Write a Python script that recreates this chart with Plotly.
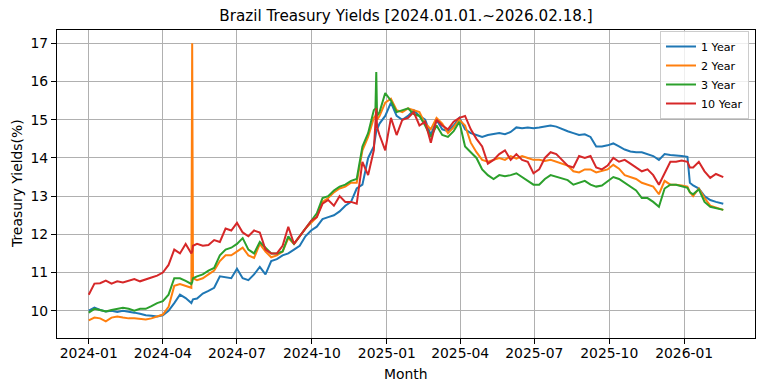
import pandas as pd
import plotly.graph_objects as go

# ---------------- data ----------------
dates = [
    "2024-01-01", "2024-01-08", "2024-01-15", "2024-01-22", "2024-01-29",
    "2024-02-05", "2024-02-12", "2024-02-19", "2024-02-26",
    "2024-03-04", "2024-03-11", "2024-03-18", "2024-03-25",
    "2024-04-01", "2024-04-08", "2024-04-15", "2024-04-22", "2024-04-29",
    "2024-05-06", "2024-05-07", "2024-05-08", "2024-05-13", "2024-05-20", "2024-05-27",
    "2024-06-03", "2024-06-10", "2024-06-17", "2024-06-24",
    "2024-07-01", "2024-07-08", "2024-07-15", "2024-07-22", "2024-07-29",
    "2024-08-05", "2024-08-12", "2024-08-19", "2024-08-26",
    "2024-09-02", "2024-09-09", "2024-09-16", "2024-09-23", "2024-09-30",
    "2024-10-07", "2024-10-14", "2024-10-21", "2024-10-28",
    "2024-11-04", "2024-11-11", "2024-11-18", "2024-11-25",
    "2024-12-02", "2024-12-09", "2024-12-16", "2024-12-18", "2024-12-19", "2024-12-20", "2024-12-23", "2024-12-30",
    "2025-01-06", "2025-01-13", "2025-01-20", "2025-01-27",
    "2025-02-03", "2025-02-10", "2025-02-17", "2025-02-24",
    "2025-03-03", "2025-03-10", "2025-03-17", "2025-03-24", "2025-03-31",
    "2025-04-07", "2025-04-14", "2025-04-21", "2025-04-28",
    "2025-05-05", "2025-05-12", "2025-05-19", "2025-05-26",
    "2025-06-02", "2025-06-09", "2025-06-16", "2025-06-23", "2025-06-30",
    "2025-07-07", "2025-07-14", "2025-07-21", "2025-07-28",
    "2025-08-04", "2025-08-11", "2025-08-18", "2025-08-25",
    "2025-09-01", "2025-09-08", "2025-09-15", "2025-09-22", "2025-09-29",
    "2025-10-06", "2025-10-13", "2025-10-20", "2025-10-27",
    "2025-11-03", "2025-11-10", "2025-11-17", "2025-11-24",
    "2025-12-01", "2025-12-08", "2025-12-15", "2025-12-22", "2025-12-29",
    "2026-01-05", "2026-01-08", "2026-01-12", "2026-01-19", "2026-01-26",
    "2026-02-02", "2026-02-09", "2026-02-16", "2026-02-18",
]

yield_1y = [
    10.0, 10.08, 10.02, 9.98, 10.0,
    9.97, 10.0, 9.98, 9.95,
    9.92, 9.88, 9.87, 9.85,
    9.88, 10.0, 10.2, 10.42, 10.33,
    10.2, 10.25, 10.3, 10.32, 10.45, 10.52,
    10.6, 10.9, 10.88, 10.85,
    11.1, 10.85, 10.8, 10.95, 11.15,
    10.95, 11.3, 11.35, 11.45,
    11.5, 11.6, 11.7, 11.95, 12.1,
    12.2, 12.4, 12.45, 12.5,
    12.6, 12.75, 12.85, 13.2,
    13.3, 14.0, 14.3, 14.6, 14.7, 14.75, 14.9, 15.1,
    15.45, 15.1, 15.0, 15.1,
    15.25, 15.1, 15.0, 14.6,
    15.0, 14.75, 14.7, 14.85, 15.05,
    14.75, 14.65, 14.6, 14.55,
    14.6, 14.62, 14.65, 14.62,
    14.68, 14.8, 14.78, 14.8, 14.78,
    14.8, 14.82, 14.85, 14.82,
    14.75, 14.7, 14.65, 14.6,
    14.62, 14.55, 14.3, 14.3, 14.33,
    14.38, 14.3, 14.22, 14.17,
    14.15, 14.15, 14.1, 14.05,
    13.95, 14.1, 14.08, 14.07, 14.05,
    14.03, 13.35, 13.28, 13.2, 13.0,
    12.9, 12.85, 12.82, 12.8,
]

yield_2y = [
    9.75, 9.82, 9.8, 9.72, 9.82,
    9.85, 9.82, 9.8, 9.8,
    9.78, 9.77, 9.8, 9.85,
    9.9, 10.1, 10.65, 10.7, 10.65,
    10.6, 17.0, 10.85, 10.8, 10.85, 10.95,
    11.05, 11.3, 11.45, 11.45,
    11.55, 11.65, 11.45, 11.38, 11.75,
    11.55, 11.4, 11.45, 11.55,
    11.9, 11.75, 11.95, 12.15, 12.3,
    12.45, 12.85, 12.95, 13.1,
    13.2, 13.25, 13.35, 13.35,
    14.2, 14.55, 15.05, 15.1, 15.2, 15.0, 15.1, 15.45,
    15.55, 15.25, 15.2, 15.3,
    15.25, 15.2, 14.9, 14.75,
    15.05, 14.9, 14.65, 14.8, 15.0,
    14.85, 14.4, 14.15, 13.95,
    13.9, 13.95, 14.0, 13.95,
    14.05, 13.98, 14.05, 14.0, 13.95,
    13.95, 13.92, 13.95, 13.9,
    13.85, 13.8, 13.65, 13.62,
    13.7, 13.7, 13.62, 13.65, 13.7,
    13.82, 13.72, 13.55, 13.5,
    13.45, 13.35, 13.3, 13.25,
    13.05, 13.4, 13.3, 13.3, 13.28,
    13.25, 13.1, 13.0, 13.2, 12.95,
    12.75, 12.7, 12.65, 12.64,
]

yield_3y = [
    9.95, 10.05, 10.02, 9.98, 10.02,
    10.05, 10.08, 10.05, 10.0,
    10.05, 10.05, 10.12, 10.2,
    10.25, 10.42, 10.85, 10.85, 10.78,
    10.7, 10.75, 10.85, 10.9, 10.95, 11.05,
    11.12, 11.45, 11.6, 11.65,
    11.75, 11.9, 11.6, 11.5, 11.8,
    11.65, 11.5, 11.5, 11.55,
    11.95, 11.75, 11.95, 12.15, 12.35,
    12.55, 12.95, 13.0, 13.15,
    13.25, 13.3, 13.4, 13.45,
    14.3, 14.65, 15.25, 15.3, 16.25, 15.1, 15.2, 15.7,
    15.5, 15.2, 15.25, 15.3,
    15.15, 15.1, 14.85, 14.55,
    14.85, 14.6, 14.55, 14.7, 14.95,
    14.3, 14.15, 14.0, 13.7,
    13.55, 13.45, 13.55, 13.52,
    13.55, 13.6, 13.5, 13.4, 13.3,
    13.3, 13.45, 13.55, 13.5,
    13.45, 13.42, 13.3, 13.35,
    13.4, 13.3, 13.25, 13.28, 13.4,
    13.5, 13.45, 13.35, 13.25,
    13.15, 12.95, 12.95, 12.85,
    12.72, 13.2, 13.3, 13.3, 13.25,
    13.22, 13.1, 13.05, 13.18, 12.85,
    12.72, 12.68, 12.65, 12.64,
]

yield_10y = [
    10.42, 10.71, 10.72, 10.79, 10.71,
    10.77, 10.74, 10.78, 10.83,
    10.77, 10.81, 10.87, 10.92,
    11.0, 11.2, 11.6, 11.5, 11.75,
    11.5, 11.55, 11.7, 11.75, 11.7, 11.72,
    11.85, 11.8, 12.15, 12.1,
    12.3, 12.05, 11.95, 12.1, 12.05,
    11.6, 11.5, 11.5, 11.7,
    12.2, 11.75, 11.95, 12.15, 12.35,
    12.45, 12.8, 12.9, 12.75,
    13.0, 12.85, 12.85, 12.8,
    13.9, 13.55, 14.2, 14.9, 15.3, 14.8, 14.6, 14.2,
    15.05, 14.6, 15.0, 15.05,
    15.2, 14.85, 14.95, 14.4,
    15.0, 14.85, 14.75, 14.95, 15.05,
    15.1, 14.75, 14.5, 14.3,
    13.85, 13.95, 14.1, 14.2,
    13.95, 14.1, 13.95, 13.9, 13.6,
    13.7, 14.0, 14.15, 14.1,
    13.95, 13.8, 13.75, 14.05,
    14.0, 14.05, 13.75, 13.7, 13.8,
    14.0, 13.9, 13.95, 13.85,
    13.75, 13.65, 13.7, 13.55,
    13.3, 13.6, 13.9, 13.9, 13.93,
    13.9, 13.75, 13.75, 13.9, 13.65,
    13.48, 13.58, 13.52, 13.5,
]

series_names = ["1 Year", "2 Year", "3 Year", "10 Year"]
series_values = [yield_1y, yield_2y, yield_3y, yield_10y]
series_colors = ["#1f77b4", "#ff7f0e", "#2ca02c", "#d62728"]

x_tick_labels = ["2024-01", "2024-04", "2024-07", "2024-10", "2025-01",
                 "2025-04", "2025-07", "2025-10", "2026-01"]
y_tick_values = [10, 11, 12, 13, 14, 15, 16, 17]

title_text = "Brazil Treasury Yields [2024.01.01.~2026.02.18.]"
x_title = "Month"
y_title = "Treasury Yields(%)"

# ---------------- figure ----------------
FONT = "DejaVu Sans"
x_dates = pd.to_datetime(dates)

fig = go.Figure()
for name, vals, col in zip(series_names, series_values, series_colors):
    fig.add_trace(go.Scatter(
        x=x_dates, y=vals, name=name, mode="lines",
        line=dict(color=col, width=2),
    ))

span = x_dates.max() - x_dates.min()
x_lo = x_dates.min() - span * 0.05
x_hi = x_dates.max() + span * 0.05

# the page body adds an 8px margin around the figure, so the figure is
# sized/positioned to land on the 764x391 window like the reference
OFF = 8
W, H = 764 - 2 * OFF, 391 - 2 * OFF
L, T = 57 - OFF, 30 - OFF
R = W - (755 - OFF)
B = H - (338 - OFF)
PW, PH = W - L - R, H - T - B

fig.update_layout(
    width=W, height=H,
    margin=dict(l=L, r=R, t=T, b=B, pad=0, autoexpand=False),
    paper_bgcolor="white", plot_bgcolor="white",
    font=dict(family=FONT, size=13.9, color="black"),
    title=dict(text=title_text, font=dict(family=FONT, size=15.2, color="black"),
               x=0.5, xref="paper", xanchor="center",
               y=1 - (16 - OFF) / H, yref="container", yanchor="middle"),
    showlegend=True,
    legend=dict(
        x=1 - (755 - 749) / PW, xanchor="right",
        y=1 - (31 - 30) / PH, yanchor="top",
        bgcolor="rgba(255,255,255,0.8)", bordercolor="#cccccc", borderwidth=1,
        font=dict(family=FONT, size=11.1, color="black"),
        tracegroupgap=0, itemwidth=30,
    ),
    xaxis=dict(
        range=[x_lo, x_hi], type="date",
        tickvals=[pd.Timestamp(t + "-01") for t in x_tick_labels],
        ticktext=x_tick_labels,
        showgrid=True, gridcolor="#b0b0b0", gridwidth=1,
        showline=True, linecolor="black", linewidth=1, mirror=True,
        ticks="outside", ticklen=5, tickwidth=1, tickcolor="black",
        zeroline=False, tickfont=dict(family=FONT, size=13.9, color="black"),
        ticklabelstandoff=-3,
    ),
    yaxis=dict(
        range=[9.286, 17.35],
        tickvals=y_tick_values,
        ticktext=[str(v) for v in y_tick_values],
        showgrid=True, gridcolor="#b0b0b0", gridwidth=1,
        showline=True, linecolor="black", linewidth=1, mirror=True,
        ticks="outside", ticklen=5, tickwidth=1, tickcolor="black",
        zeroline=False, tickfont=dict(family=FONT, size=13.9, color="black"),
    ),
    annotations=[
        dict(text=x_title, xref="paper", yref="paper", x=0.5,
             y=-(374 - 338) / PH,
             xanchor="center", yanchor="middle", showarrow=False,
             font=dict(family=FONT, size=13.9, color="black")),
        dict(text=y_title, xref="paper", yref="paper",
             x=-(57 - 17) / PW, y=0.5,
             xanchor="center", yanchor="middle", showarrow=False, textangle=-90,
             font=dict(family=FONT, size=13.9, color="black")),
    ],
)

fig.write_html("out.html")
